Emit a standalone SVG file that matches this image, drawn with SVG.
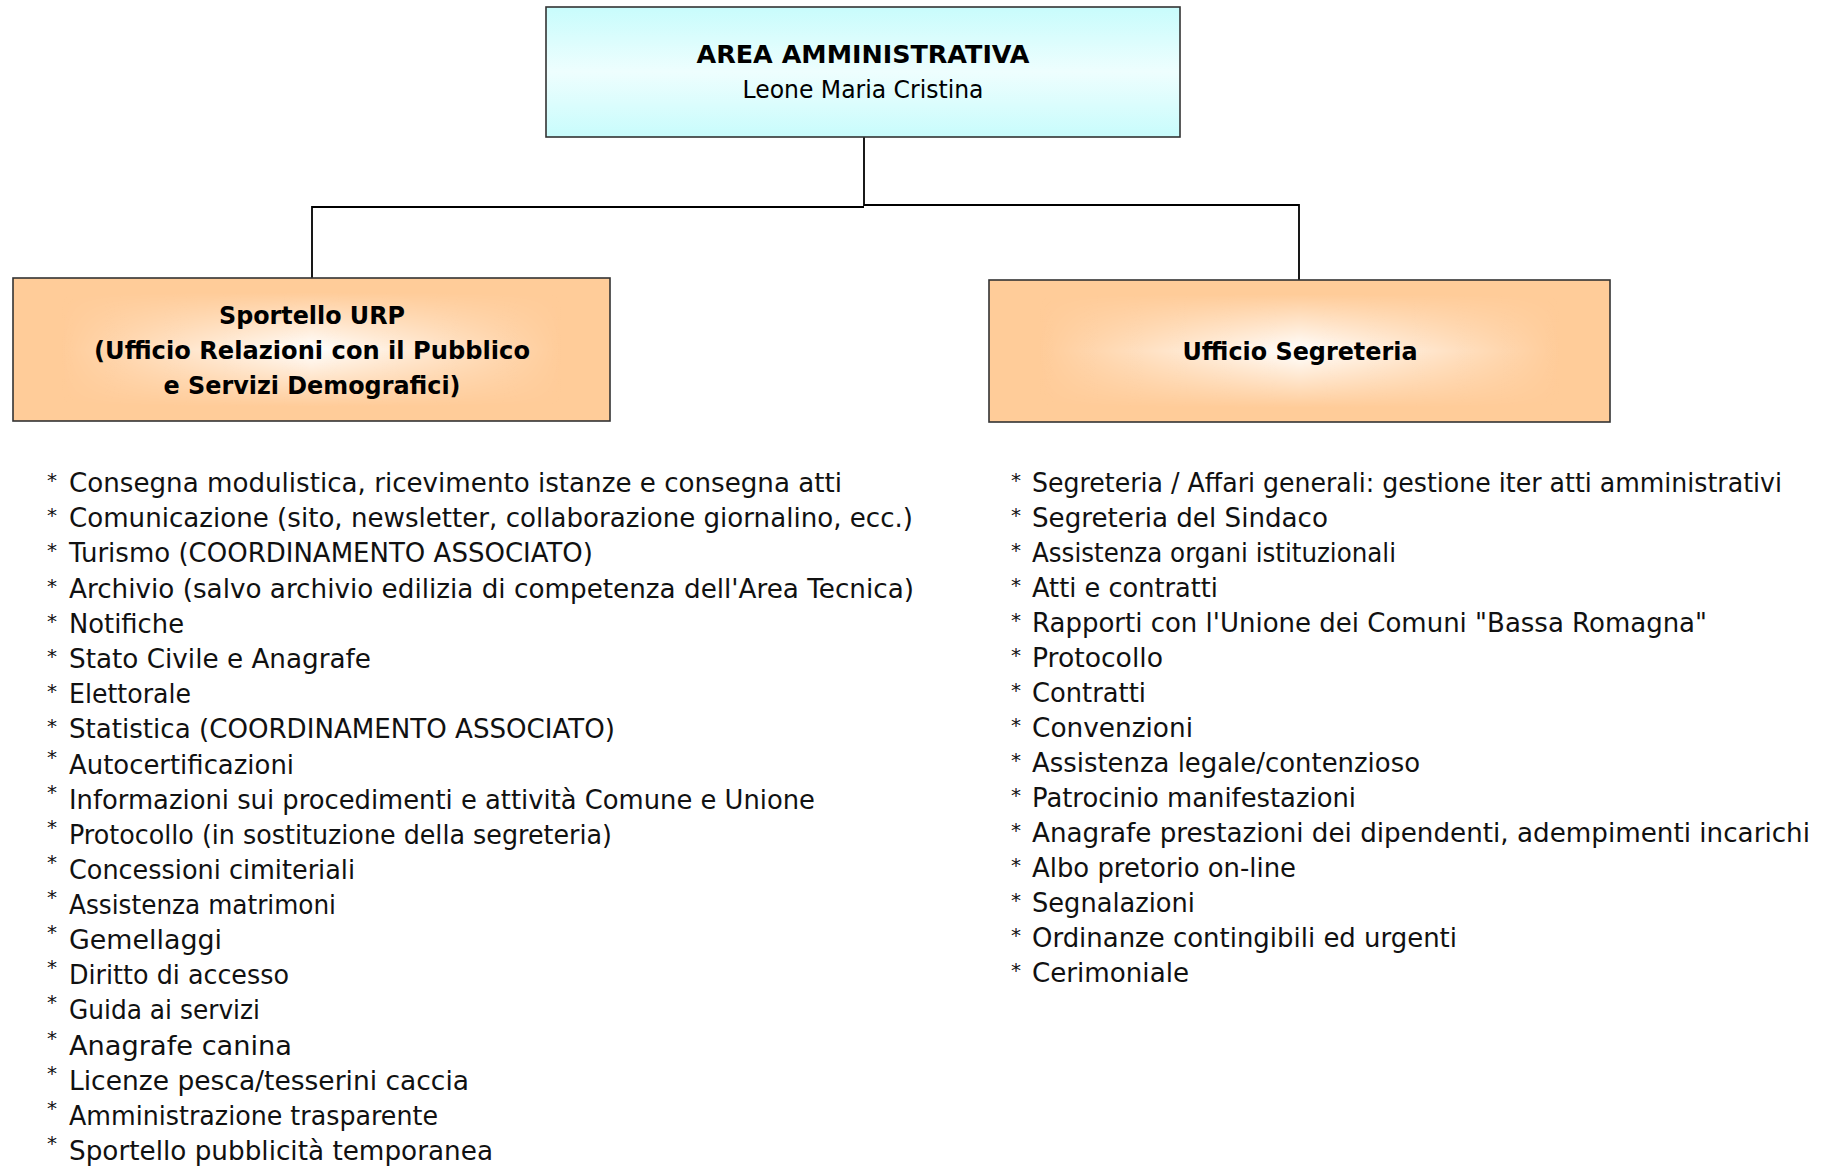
<svg xmlns="http://www.w3.org/2000/svg" width="1823" height="1167" viewBox="0 0 1823 1167">
<style>
.box{stroke:#333;stroke-width:1.6}
.t{font-family:"DejaVu Sans",sans-serif;font-weight:bold;font-size:25px;fill:#000;text-anchor:middle}
.n{font-family:"DejaVu Sans",sans-serif;font-size:24px;fill:#000;text-anchor:middle}
.li{font-family:"DejaVu Sans",sans-serif;font-size:26px;fill:#111}
.st{font-family:"DejaVu Sans",sans-serif;font-size:20px;fill:#111}
.conn{stroke:#000;stroke-width:1.8;fill:none}
</style>
<defs>
<linearGradient id="cyan" x1="0" y1="0" x2="0" y2="1">
<stop offset="0" stop-color="#c8fcfc"/>
<stop offset="0.5" stop-color="#eefefe"/>
<stop offset="1" stop-color="#c8fcfc"/>
</linearGradient>
<linearGradient id="hwhite" x1="0" y1="0" x2="1" y2="0">
<stop offset="0.08" stop-color="#fff" stop-opacity="0"/>
<stop offset="0.5" stop-color="#fff" stop-opacity="1"/>
<stop offset="0.92" stop-color="#fff" stop-opacity="0"/>
</linearGradient>
<linearGradient id="vmask" x1="0" y1="0" x2="0" y2="1">
<stop offset="0.1" stop-color="#000"/>
<stop offset="0.5" stop-color="#fff"/>
<stop offset="0.9" stop-color="#000"/>
</linearGradient>
<mask id="mL" maskContentUnits="userSpaceOnUse"><rect x="13" y="278" width="597" height="143" fill="url(#vmask)"/></mask>
<mask id="mR" maskContentUnits="userSpaceOnUse"><rect x="989" y="280" width="621" height="142" fill="url(#vmask)"/></mask>
</defs>

<g id="connectors">
<path class="conn" d="M864 137 V206"/>
<path class="conn" d="M312 278 V207 H864"/>
<path class="conn" d="M864 205 H1299 V280"/>
</g>

<g id="area-amministrativa">
<rect class="box" x="546" y="7" width="634" height="130" fill="url(#cyan)"/>
<text class="t" x="863" y="63" textLength="333" lengthAdjust="spacingAndGlyphs">AREA AMMINISTRATIVA</text>
<text class="n" x="863" y="98" textLength="241" lengthAdjust="spacingAndGlyphs">Leone Maria Cristina</text>
</g>

<g id="sportello-urp">
<rect x="13" y="278" width="597" height="143" fill="#ffcc99"/>
<rect x="13" y="278" width="597" height="143" fill="url(#hwhite)" mask="url(#mL)"/>
<rect class="box" x="13" y="278" width="597" height="143" fill="none"/>
<text class="t" x="312" y="324" textLength="186" lengthAdjust="spacingAndGlyphs">Sportello URP</text>
<text class="t" x="312" y="359" textLength="436" lengthAdjust="spacingAndGlyphs">(Ufficio Relazioni con il Pubblico</text>
<text class="t" x="312" y="394" textLength="297" lengthAdjust="spacingAndGlyphs">e Servizi Demografici)</text>
</g>

<g id="ufficio-segreteria">
<rect x="989" y="280" width="621" height="142" fill="#ffcc99"/>
<rect x="989" y="280" width="621" height="142" fill="url(#hwhite)" mask="url(#mR)"/>
<rect class="box" x="989" y="280" width="621" height="142" fill="none"/>
<text class="t" x="1300" y="360" textLength="235" lengthAdjust="spacingAndGlyphs">Ufficio Segreteria</text>
</g>

<g id="lista-urp">
<text class="st" x="47" y="487">*</text><text class="li" x="69" y="492" textLength="773" lengthAdjust="spacingAndGlyphs">Consegna modulistica, ricevimento istanze e consegna atti</text>
<text class="st" x="47" y="522">*</text><text class="li" x="69" y="527" textLength="844" lengthAdjust="spacingAndGlyphs">Comunicazione (sito, newsletter, collaborazione giornalino, ecc.)</text>
<text class="st" x="47" y="557">*</text><text class="li" x="69" y="562" textLength="524" lengthAdjust="spacingAndGlyphs">Turismo (COORDINAMENTO ASSOCIATO)</text>
<text class="st" x="47" y="593">*</text><text class="li" x="69" y="598" textLength="845" lengthAdjust="spacingAndGlyphs">Archivio (salvo archivio edilizia di competenza dell'Area Tecnica)</text>
<text class="st" x="47" y="628">*</text><text class="li" x="69" y="633" textLength="115" lengthAdjust="spacingAndGlyphs">Notifiche</text>
<text class="st" x="47" y="663">*</text><text class="li" x="69" y="668" textLength="302" lengthAdjust="spacingAndGlyphs">Stato Civile e Anagrafe</text>
<text class="st" x="47" y="698">*</text><text class="li" x="69" y="703" textLength="122" lengthAdjust="spacingAndGlyphs">Elettorale</text>
<text class="st" x="47" y="733">*</text><text class="li" x="69" y="738" textLength="546" lengthAdjust="spacingAndGlyphs">Statistica (COORDINAMENTO ASSOCIATO)</text>
<text class="st" x="47" y="764">*</text><text class="li" x="69" y="774" textLength="225" lengthAdjust="spacingAndGlyphs">Autocertificazioni</text>
<text class="st" x="47" y="799">*</text><text class="li" x="69" y="809" textLength="746" lengthAdjust="spacingAndGlyphs">Informazioni sui procedimenti e attività Comune e Unione</text>
<text class="st" x="47" y="834">*</text><text class="li" x="69" y="844" textLength="543" lengthAdjust="spacingAndGlyphs">Protocollo (in sostituzione della segreteria)</text>
<text class="st" x="47" y="869">*</text><text class="li" x="69" y="879" textLength="286" lengthAdjust="spacingAndGlyphs">Concessioni cimiteriali</text>
<text class="st" x="47" y="904">*</text><text class="li" x="69" y="914" textLength="267" lengthAdjust="spacingAndGlyphs">Assistenza matrimoni</text>
<text class="st" x="47" y="939">*</text><text class="li" x="69" y="949" textLength="153" lengthAdjust="spacingAndGlyphs">Gemellaggi</text>
<text class="st" x="47" y="974">*</text><text class="li" x="69" y="984" textLength="220" lengthAdjust="spacingAndGlyphs">Diritto di accesso</text>
<text class="st" x="47" y="1009">*</text><text class="li" x="69" y="1019" textLength="191" lengthAdjust="spacingAndGlyphs">Guida ai servizi</text>
<text class="st" x="47" y="1045">*</text><text class="li" x="69" y="1055" textLength="223" lengthAdjust="spacingAndGlyphs">Anagrafe canina</text>
<text class="st" x="47" y="1080">*</text><text class="li" x="69" y="1090" textLength="400" lengthAdjust="spacingAndGlyphs">Licenze pesca/tesserini caccia</text>
<text class="st" x="47" y="1115">*</text><text class="li" x="69" y="1125" textLength="369" lengthAdjust="spacingAndGlyphs">Amministrazione trasparente</text>
<text class="st" x="47" y="1150">*</text><text class="li" x="69" y="1160" textLength="424" lengthAdjust="spacingAndGlyphs">Sportello pubblicità temporanea</text>
</g>

<g id="lista-segreteria">
<text class="st" x="1011" y="487">*</text><text class="li" x="1032" y="492" textLength="750" lengthAdjust="spacingAndGlyphs">Segreteria / Affari generali: gestione iter atti amministrativi</text>
<text class="st" x="1011" y="522">*</text><text class="li" x="1032" y="527" textLength="296" lengthAdjust="spacingAndGlyphs">Segreteria del Sindaco</text>
<text class="st" x="1011" y="557">*</text><text class="li" x="1032" y="562" textLength="364" lengthAdjust="spacingAndGlyphs">Assistenza organi istituzionali</text>
<text class="st" x="1011" y="592">*</text><text class="li" x="1032" y="597" textLength="186" lengthAdjust="spacingAndGlyphs">Atti e contratti</text>
<text class="st" x="1011" y="627">*</text><text class="li" x="1032" y="632" textLength="675" lengthAdjust="spacingAndGlyphs">Rapporti con l'Unione dei Comuni "Bassa Romagna"</text>
<text class="st" x="1011" y="662">*</text><text class="li" x="1032" y="667" textLength="131" lengthAdjust="spacingAndGlyphs">Protocollo</text>
<text class="st" x="1011" y="697">*</text><text class="li" x="1032" y="702" textLength="114" lengthAdjust="spacingAndGlyphs">Contratti</text>
<text class="st" x="1011" y="732">*</text><text class="li" x="1032" y="737" textLength="161" lengthAdjust="spacingAndGlyphs">Convenzioni</text>
<text class="st" x="1011" y="767">*</text><text class="li" x="1032" y="772" textLength="388" lengthAdjust="spacingAndGlyphs">Assistenza legale/contenzioso</text>
<text class="st" x="1011" y="802">*</text><text class="li" x="1032" y="807" textLength="324" lengthAdjust="spacingAndGlyphs">Patrocinio manifestazioni</text>
<text class="st" x="1011" y="837">*</text><text class="li" x="1032" y="842" textLength="778" lengthAdjust="spacingAndGlyphs">Anagrafe prestazioni dei dipendenti, adempimenti incarichi</text>
<text class="st" x="1011" y="872">*</text><text class="li" x="1032" y="877" textLength="264" lengthAdjust="spacingAndGlyphs">Albo pretorio on-line</text>
<text class="st" x="1011" y="907">*</text><text class="li" x="1032" y="912" textLength="163" lengthAdjust="spacingAndGlyphs">Segnalazioni</text>
<text class="st" x="1011" y="942">*</text><text class="li" x="1032" y="947" textLength="425" lengthAdjust="spacingAndGlyphs">Ordinanze contingibili ed urgenti</text>
<text class="st" x="1011" y="977">*</text><text class="li" x="1032" y="982" textLength="157" lengthAdjust="spacingAndGlyphs">Cerimoniale</text>
</g>
</svg>
